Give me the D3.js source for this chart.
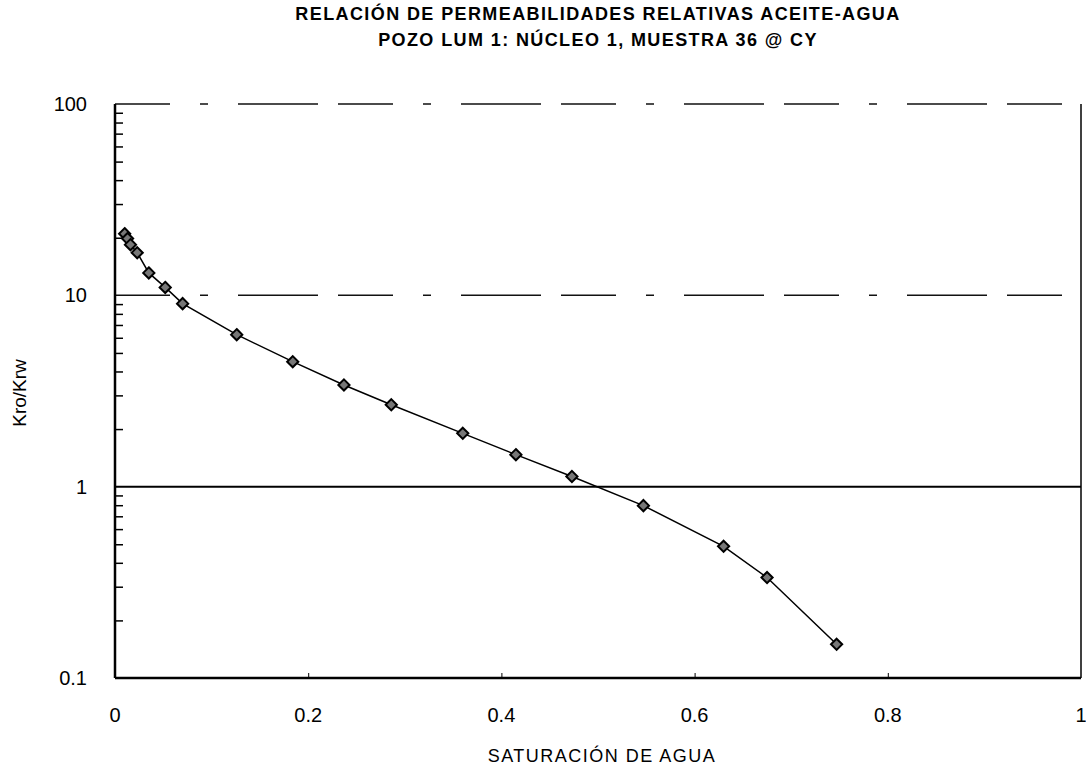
<!DOCTYPE html>
<html>
<head>
<meta charset="utf-8">
<script src="https://cdn.jsdelivr.net/npm/d3@7"></script>
<style>
  body { margin: 0; background: #fff; }
  text { font-family: "Liberation Sans", Arial, sans-serif; fill: #000; }
</style>
</head>
<body>
<div id="wrapper"></div>
<script>
// Saturación de agua (fracción) y Kro/Krw
const satAgua = [0.010, 0.013, 0.016, 0.023, 0.035, 0.052, 0.070, 0.126, 0.184, 0.237, 0.286, 0.360, 0.415, 0.473, 0.547, 0.630, 0.675, 0.747]
const kroKrw  = [21.0, 19.8, 18.4, 16.7, 13.1, 11.0, 9.05, 6.23, 4.50, 3.40, 2.68, 1.90, 1.47, 1.13, 0.796, 0.488, 0.335, 0.150]

const xTicks = [0, 0.2, 0.4, 0.6, 0.8, 1]
const yTicks = [0.1, 1, 10, 100]
const titleLines = ["RELACIÓN DE PERMEABILIDADES RELATIVAS ACEITE-AGUA", "POZO LUM 1: NÚCLEO 1, MUESTRA 36 @ CY"]

const dataset = satAgua.map((s, i) => ({ sw: s, ratio: kroKrw[i] }))

function drawChart() {
    let dimensions = {
        width: 1086,
        height: 771,
        margin: { top: 104, right: 5, bottom: 93, left: 115 },
    }
    dimensions.boundedWidth = dimensions.width - dimensions.margin.left - dimensions.margin.right
    dimensions.boundedHeight = dimensions.height - dimensions.margin.top - dimensions.margin.bottom

    const wrapper = d3.select("#wrapper")
        .append("svg")
        .attr("width", dimensions.width)
        .attr("height", dimensions.height)

    const bounds = wrapper.append("g")
        .attr("transform", `translate(${dimensions.margin.left}, ${dimensions.margin.top})`)

    const xScale = d3.scaleLinear()
        .domain([0, 1])
        .range([0, dimensions.boundedWidth])

    const yScale = d3.scaleLog()
        .domain([0.1, 100])
        .range([dimensions.boundedHeight, 0])

    // gridlines (the scan shows them broken up)
    bounds.append("g")
        .selectAll("line")
        .data([10, 100])
        .join("line")
        .attr("x1", 0)
        .attr("x2", dimensions.boundedWidth)
        .attr("y1", d => yScale(d))
        .attr("y2", d => yScale(d))
        .attr("stroke", "#111")
        .attr("stroke-width", 1.5)
        .attr("stroke-dasharray", "55,30,8,30,80,20")

    // line at Kro/Krw = 1
    bounds.append("line")
        .attr("x1", 0)
        .attr("x2", dimensions.boundedWidth)
        .attr("y1", yScale(1))
        .attr("y2", yScale(1))
        .attr("stroke", "#000")
        .attr("stroke-width", 2)

    // right border
    bounds.append("line")
        .attr("x1", dimensions.boundedWidth)
        .attr("x2", dimensions.boundedWidth)
        .attr("y1", 0)
        .attr("y2", dimensions.boundedHeight)
        .attr("stroke", "#000")
        .attr("stroke-width", 1.5)

    // axes
    const yAxisGen = d3.axisRight(yScale)
        .tickValues(yScale.ticks().filter(d => !yTicks.includes(d)))
        .tickSize(8)
        .tickFormat("")
    const yAxis = bounds.append("g").call(yAxisGen)
    yAxis.select(".domain").remove()
    yAxis.selectAll(".tick line").attr("stroke-width", 1.5)

    bounds.append("line")
        .attr("x1", 0).attr("x2", 0)
        .attr("y1", 0).attr("y2", dimensions.boundedHeight)
        .attr("stroke", "#000").attr("stroke-width", 2.5)

    bounds.append("line")
        .attr("x1", 0).attr("x2", dimensions.boundedWidth)
        .attr("y1", dimensions.boundedHeight).attr("y2", dimensions.boundedHeight)
        .attr("stroke", "#000").attr("stroke-width", 2.5)

    const xAxisGen = d3.axisTop(xScale)
        .tickValues(xTicks.slice(1, -1))
        .tickSize(5)
        .tickFormat("")
    const xAxis = bounds.append("g")
        .attr("transform", `translate(0, ${dimensions.boundedHeight})`)
        .call(xAxisGen)
    xAxis.select(".domain").remove()

    // tick labels
    bounds.append("g")
        .selectAll("text")
        .data(yTicks)
        .join("text")
        .attr("x", -28)
        .attr("y", d => yScale(d))
        .attr("dy", "0.35em")
        .attr("text-anchor", "end")
        .style("font-size", "20px")
        .text(d => d)

    bounds.append("g")
        .selectAll("text")
        .data(xTicks)
        .join("text")
        .attr("x", d => xScale(d))
        .attr("y", dimensions.boundedHeight + 44)
        .attr("text-anchor", "middle")
        .style("font-size", "20px")
        .text(d => d)

    // series
    const lineGen = d3.line()
        .x(d => xScale(d.sw))
        .y(d => yScale(d.ratio))

    bounds.append("path")
        .datum(dataset)
        .attr("d", lineGen)
        .attr("fill", "none")
        .attr("stroke", "#000")
        .attr("stroke-width", 1.5)

    bounds.append("g")
        .selectAll("path")
        .data(dataset)
        .join("path")
        .attr("d", d3.symbol(d3.symbolDiamond2, 80))
        .attr("transform", d => `translate(${xScale(d.sw)}, ${yScale(d.ratio)})`)
        .attr("fill", "#777")
        .attr("stroke", "#000")
        .attr("stroke-width", 2)

    // titles
    wrapper.append("g")
        .selectAll("text")
        .data(titleLines)
        .join("text")
        .attr("x", 598)
        .attr("y", (d, i) => 20 + i * 26)
        .attr("text-anchor", "middle")
        .style("font-size", "18px")
        .style("font-weight", "bold")
        .style("letter-spacing", "1.4px")
        .text(d => d)

    wrapper.append("text")
        .attr("x", 602)
        .attr("y", 762)
        .attr("text-anchor", "middle")
        .style("font-size", "18px")
        .style("letter-spacing", "1.5px")
        .text("SATURACIÓN DE AGUA")

    wrapper.append("text")
        .attr("transform", `translate(26, 393) rotate(-90)`)
        .attr("text-anchor", "middle")
        .style("font-size", "19px")
        .text("Kro/Krw")
}

drawChart()
</script>
</body>
</html>
